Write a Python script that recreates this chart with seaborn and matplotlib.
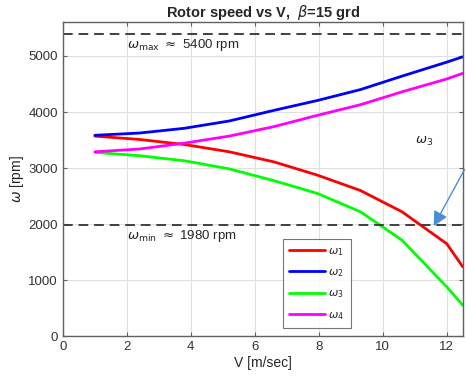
import numpy as np
import pandas as pd
import seaborn as sns
import matplotlib.pyplot as plt

# Wind speed points [m/sec]
V = [1.0, 2.4, 3.8, 5.2, 6.6, 7.95, 9.3, 10.6, 12.0, 12.5]

# Rotor speeds [rpm]
w1 = [3570, 3510, 3420, 3290, 3110, 2875, 2600, 2220, 1650, 1238]
w2 = [3585, 3625, 3710, 3840, 4030, 4205, 4400, 4640, 4890, 4985]
w3 = [3280, 3220, 3130, 2985, 2775, 2548, 2220, 1714, 880, 553]
w4 = [3290, 3340, 3445, 3570, 3740, 3940, 4130, 4360, 4590, 4690]

labels = [r'$\omega_1$', r'$\omega_2$', r'$\omega_3$', r'$\omega_4$']
colors = ['#ff0000', '#0000ff', '#00ff00', '#ff00ff']

w_max = 5400
w_min = 1980

df = pd.DataFrame({'V': V * 4,
                   'w': w1 + w2 + w3 + w4,
                   'series': [lab for lab in labels for _ in V]})

sns.set_style('whitegrid')
plt.rcParams['font.family'] = ['Liberation Sans', 'DejaVu Sans']
plt.rcParams['mathtext.fontset'] = 'dejavusans'

fig = plt.figure(figsize=(4.66, 3.79), dpi=100)
ax = fig.add_axes([0.135, 0.113, 0.858, 0.828])

sns.lineplot(data=df, x='V', y='w', hue='series', palette=colors,
             linewidth=2, ax=ax, sort=False)

# speed limits
ax.axhline(w_max, color='#404040', linestyle='--', linewidth=1.4, dashes=(5, 3))
ax.axhline(w_min, color='#404040', linestyle='--', linewidth=1.4, dashes=(5, 3))
ax.text(2.0, 5150, r'$\omega_{\rm max}$ $\approx$ 5400 rpm', fontsize=9.5)
ax.text(2.0, 1730, r'$\omega_{\rm min}$ $\approx$ 1980 rpm', fontsize=9.5)

ax.text(11.0, 3430, r'$\omega_3$', fontsize=9.5)
ax.annotate('', xy=(11.55, 1920), xytext=(12.6, 3020),
            arrowprops=dict(arrowstyle='-|>', color='#4a8fd6', lw=1,
                            mutation_scale=22),
            annotation_clip=False)

ax.set_xlim(0, 12.5)
ax.set_ylim(0, 5600)
ax.set_xticks(np.arange(0, 13, 2))
ax.set_yticks(np.arange(0, 5001, 1000))
ax.set_xlabel('V [m/sec]', fontsize=10, labelpad=2)
ax.set_ylabel(r'$\omega$ [rpm]', fontsize=10, labelpad=2)
ax.set_title(r'Rotor speed vs V,  $\beta$=15 grd', fontsize=10.5,
             fontweight='bold', pad=4)

ax.grid(True, color='#e0e0e0', linewidth=0.8)
for side in ['left', 'right', 'top', 'bottom']:
    ax.spines[side].set_visible(True)
    ax.spines[side].set_color('#606060')
    ax.spines[side].set_linewidth(1.0)
ax.tick_params(axis='both', direction='in', length=3, labelsize=9.5,
               colors='#606060', labelcolor='#333333',
               top=True, right=True, bottom=True, left=True)

leg = ax.legend(loc='lower left', bbox_to_anchor=(0.55, 0.025),
                fontsize=8, frameon=True, fancybox=False,
                handlelength=3.2, handletextpad=0.3, labelspacing=0.85,
                borderpad=0.6, borderaxespad=0.0)
leg.get_frame().set_edgecolor('#555555')
leg.get_frame().set_linewidth(0.8)
for line in leg.get_lines():
    line.set_linewidth(2)

fig.savefig('out.png', dpi=100)
